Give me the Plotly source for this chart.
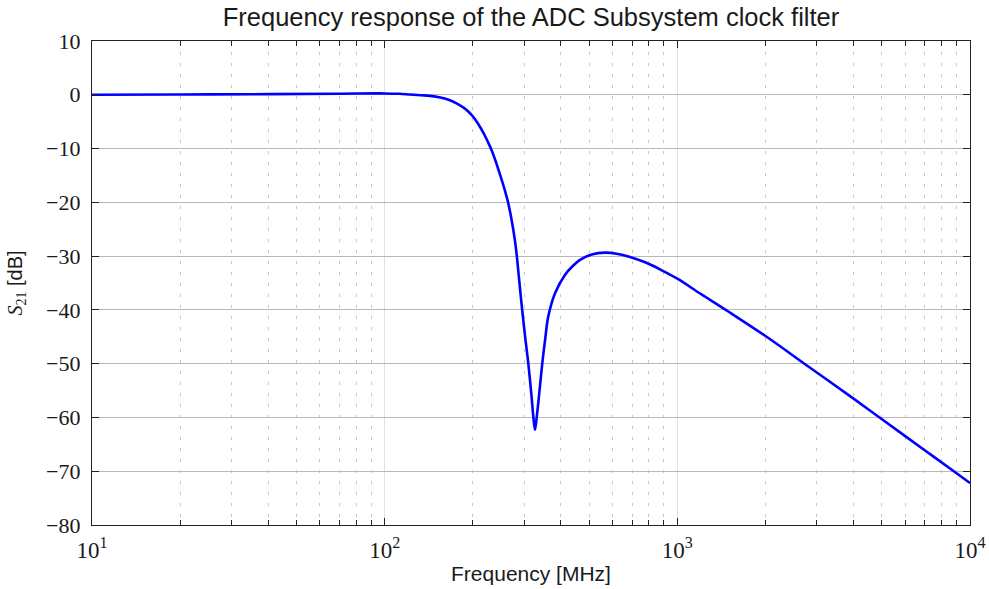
import plotly.graph_objects as go

freq_mhz = [10, 20, 40, 70, 100, 112, 122, 133, 143, 155, 167, 176, 186, 193, 200,
            208, 217, 225, 232, 240, 248, 256, 264, 272, 279, 283, 287, 295, 302,
            309.5, 317.6, 322, 326.3, 331, 336.6, 345.6, 354, 362, 382, 413, 440,
            465, 510, 566, 620, 689, 780, 872, 1000, 1200, 1493, 2018, 2748, 4000,
            4990, 7000, 9120, 10000]
s21_db = [0.0, 0.05, 0.12, 0.2, 0.25, 0.18, 0.05, -0.08, -0.2, -0.5, -1.0, -1.6,
          -2.4, -3.1, -4.0, -5.3, -7.0, -8.7, -10.3, -12.5, -14.9, -17.3, -20, -23.5,
          -27.3, -30.1, -33.5, -40, -45, -49.9, -56.1, -59.8, -62.3, -59.8, -56.1,
          -49.9, -45.2, -41.3, -36.9, -33.5, -31.8, -30.7, -29.7, -29.36, -29.55,
          -30.15, -31.2, -32.45, -34.2, -37.0, -40.3, -45.0, -50.2, -56.5, -60.3,
          -66.1, -70.6, -72.2]

x_tickvals = [10, 100, 1000, 10000]
x_ticktext = ["10<sup>1</sup>", "10<sup>2</sup>", "10<sup>3</sup>", "10<sup>4</sup>"]
y_tickvals = [10, 0, -10, -20, -30, -40, -50, -60, -70, -80]

serif = "Liberation Serif"
sans = "Liberation Sans"

fig = go.Figure()
fig.add_trace(go.Scatter(x=freq_mhz, y=s21_db, mode="lines",
                         line=dict(color="#0000ff", width=2.6, shape="spline", smoothing=1.0),
                         showlegend=False, hoverinfo="skip"))

fig.update_layout(
    width=989, height=589,
    margin=dict(l=92, r=19, t=41, b=64),
    paper_bgcolor="white", plot_bgcolor="white",
    title=dict(text="Frequency response of the ADC Subsystem clock filter",
               x=531 / 989, xanchor="center", y=1 - 17 / 589, yanchor="middle",
               yref="container", font=dict(family=sans, size=25.5, color="#1a1a1a")),
)

fig.update_xaxes(
    type="log", range=[1, 4], automargin=False,
    tickvals=x_tickvals, ticktext=x_ticktext,
    tickfont=dict(family=serif, size=23, color="#1a1a1a"),
    ticklabeloverflow="allow",
    ticks="inside", ticklen=7, tickcolor="#222", tickwidth=1,
    showline=True, linecolor="#222", linewidth=1.3, mirror="ticks",
    showgrid=True, gridcolor="#e2e2e2", gridwidth=1.2,
    minor=dict(ticks="inside", ticklen=5, tickcolor="#222", tickwidth=1,
               dtick="D1", showgrid=True, gridcolor="#c8c8c8", griddash="3px,8px",
               gridwidth=1),
    zeroline=False,
    ticklabelstandoff=4,
    title=dict(text="Frequency [MHz]", font=dict(family=sans, size=21, color="#1a1a1a"),
               standoff=4),
)

fig.update_yaxes(
    range=[-80, 10], tickvals=y_tickvals, automargin=False,
    tickfont=dict(family=serif, size=22, color="#1a1a1a"),
    ticks="inside", ticklen=7, tickcolor="#222", tickwidth=1,
    showline=True, linecolor="#222", linewidth=1.3, mirror="ticks",
    showgrid=True, gridcolor="#b8b8b8", gridwidth=1,
    zeroline=False,
    ticklabelstandoff=6,
    title=dict(text="<span style='font-family:Liberation Serif'><i>S</i><sub>21</sub></span> [dB]",
               font=dict(family=sans, size=20, color="#1a1a1a"), standoff=18),
)

fig.write_html("out.html", config={"displayModeBar": False},
               post_script="document.body.style.margin='0';document.body.style.overflow='hidden';")
